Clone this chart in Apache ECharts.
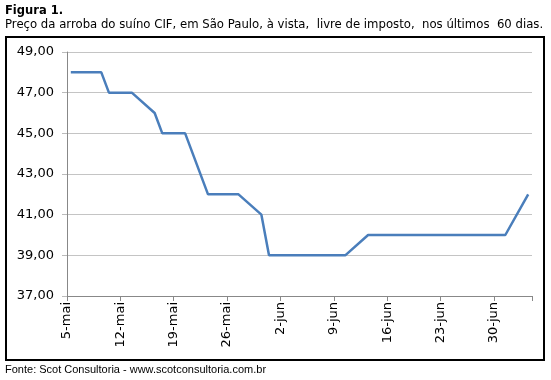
<!DOCTYPE html>
<html><head><meta charset="utf-8">
<script src="https://cdn.jsdelivr.net/npm/echarts@6/dist/echarts.min.js"></script>
<style>html,body{margin:0;padding:0;background:#fff}#c{width:551px;height:380px}</style>
</head><body><div id="c"></div>
<script>
const startDate = '05/05';
const dates = ['05/05','09/05','10/05','13/05','16/05','17/05','20/05','23/05','27/05','30/05','31/05','10/06','13/06','01/07','04/07'];
const prices = [48,48,47,47,46,45,45,42,42,41,39,39,40,40,42];
const tickLabels = ['5-mai','12-mai','19-mai','26-mai','2-jun','9-jun','16-jun','23-jun','30-jun'];

function dayIndex(s){
  const [d,m] = s.split('/').map(Number);
  const [d0,m0] = startDate.split('/').map(Number);
  return (Date.UTC(2014,m-1,d) - Date.UTC(2014,m0-1,d0)) / 86400000;
}
const seriesData = dates.map((s,i)=>[dayIndex(s)+0.5, prices[i]]);

const chart = echarts.init(document.getElementById('c'));
const F = 'DejaVu Sans';
chart.setOption({
  animation:false,
  textStyle:{fontFamily:F},
  graphic:[
    {type:'text', left:5, top:5, style:{text:'Figura 1.', font:'bold 11.5px "DejaVu Sans"', fill:'#000'}},
    {type:'text', left:5, top:19, style:{text:'Preço da arroba do suíno CIF, em São Paulo, à vista,  livre de imposto,  nos últimos  60 dias.', font:'11.7px "DejaVu Sans"', fill:'#000'}},
    {type:'rect', shape:{x:6, y:37, width:538, height:323}, style:{fill:'none', stroke:'#000', lineWidth:2}},
    {type:'text', left:5, top:364, style:{text:'Fonte: Scot Consultoria - www.scotconsultoria.com.br', font:'11px "Liberation Sans"', fill:'#000'}}
  ],
  grid:{left:67, right:19, top:52, bottom:84, containLabel:false},
  xAxis:{type:'value', min:0, max:61, interval:7,
    axisLine:{show:true, lineStyle:{color:'#888', width:1}},
    axisTick:{show:true, length:5, lineStyle:{color:'#888'}},
    splitLine:{show:false},
    axisLabel:{rotate:90, color:'#000', fontSize:13, fontFamily:F, margin:6,
      formatter:v=>tickLabels[Math.round(v/7)]||''}
  },
  yAxis:{type:'value', min:37, max:49, interval:2,
    axisLine:{show:true, lineStyle:{color:'#888'}},
    axisTick:{show:true, length:5, lineStyle:{color:'#bbb'}},
    splitLine:{show:true, lineStyle:{color:'#c4c4c4', width:1}},
    axisLabel:{color:'#000', fontSize:13, fontFamily:F, margin:13,
      formatter:v=>v.toFixed(2).replace('.',',')}
  },
  series:[{type:'line', data:seriesData, showSymbol:false, symbol:'none',
    lineStyle:{color:'#4a7ebb', width:2.5}}]
});
</script></body></html>
